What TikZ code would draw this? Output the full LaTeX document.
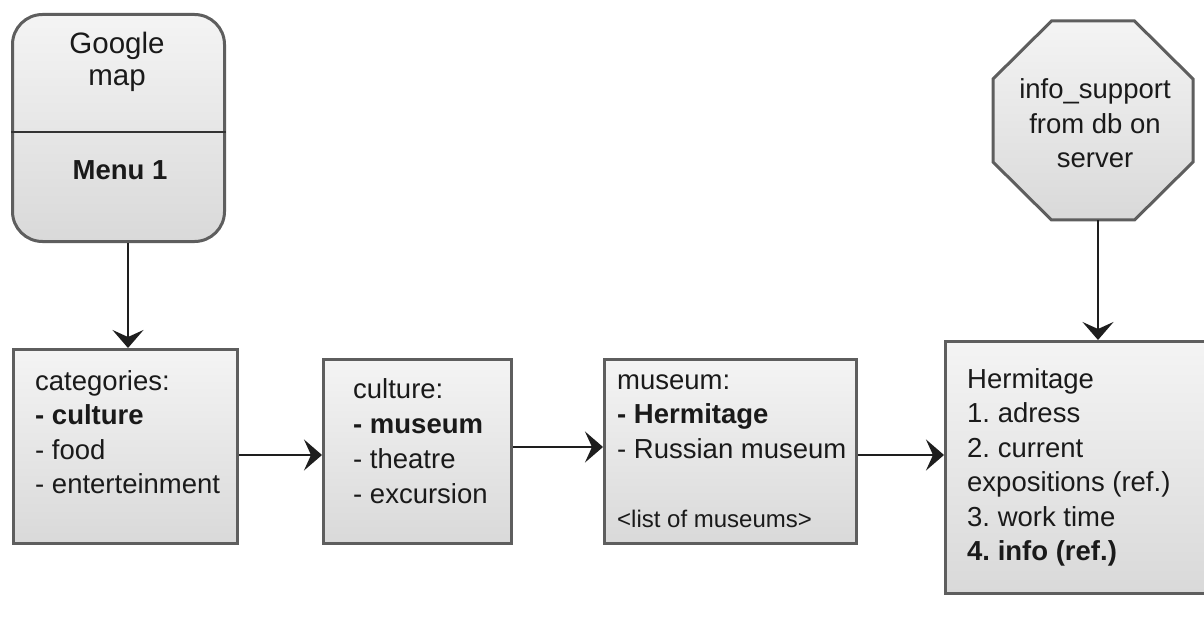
\documentclass[tikz,border=0pt]{standalone}
\usepackage{fontspec}
\setmainfont{Liberation Sans}
\usetikzlibrary{arrows.meta}
\definecolor{boxgray}{HTML}{5E5E5E}
\definecolor{topg}{HTML}{F4F4F4}
\definecolor{botg}{HTML}{D9D9D9}
\definecolor{txtc}{HTML}{1A1A1A}
\definecolor{arrc}{HTML}{1E1E1E}
\tikzset{
  box/.style={draw=boxgray, line width=3bp, top color=topg, bottom color=botg, inner sep=0pt, anchor=north west},
  txt/.style={font=\fontsize{27.5bp}{34.5bp}\selectfont, inner sep=0pt, text=txtc},
  bigtxt/.style={font=\fontsize{29.5bp}{34.5bp}\selectfont, inner sep=0pt, text=txtc},
  smalltxt/.style={font=\fontsize{24bp}{28bp}\selectfont, inner sep=0pt, text=txtc},
  arr/.style={draw=arrc, line width=2bp, -{Stealth[length=18bp,width=31bp,inset=7bp]}},
}
\begin{document}
\frenchspacing
\begin{tikzpicture}[x=1bp,y=-1bp]
\useasboundingbox (0,0) rectangle (1204,634);
\clip (0,0) rectangle (1204,634);
\fill[white] (0,0) rectangle (1204,634);

% Google map box
\node[box, rounded corners=30bp, minimum width=212bp, minimum height=227bp] (gm) at (11,13) {};
\coordinate (dv) at (0,132);
\draw[line width=2bp, black!80] (gm.west |- dv) -- (gm.east |- dv);
\node[bigtxt, anchor=base] (gm1) at (117,54) {Google};
\node[bigtxt, anchor=base] (gm2) at (117,86) {map};
\node[txt, anchor=base, font=\fontsize{27.5bp}{34.5bp}\selectfont\bfseries] (gm3) at (120,180) {Menu 1};

% boxes
\node[box, minimum width=224bp, minimum height=194bp] (cat) at (12,348) {};
\node[box, minimum width=188bp, minimum height=184bp] (cul) at (322,358) {};
\node[box, minimum width=252bp, minimum height=184bp] (mus) at (603,358) {};
\node[box, minimum width=266bp, minimum height=252bp] (herm) at (944,340) {};

% octagon
\node[minimum width=200bp, minimum height=199bp, inner sep=0pt] (oct) at (1093,120.5) {};
\path[draw=boxgray, line width=3bp, top color=topg, bottom color=botg]
  (1051.5,21) -- (1134.5,21) -- (1193,79) -- (1193,162) -- (1134.5,220)
  -- (1051.5,220) -- (993,162) -- (993,79) -- cycle;
\foreach \t [count=\i from 0] in {info\_support, from db on, server}
  \node[txt, anchor=base] (oct\i) at (1095,99+34.5*\i) {\t};

% texts
\foreach \t [count=\i from 0] in {categories:, {\bfseries - culture}, - food, - enterteinment}
  \node[txt, anchor=base west] (catt\i) at (35,390+34.5*\i) {\t};
\foreach \t [count=\i from 0] in {culture:, {\bfseries - museum}, - theatre, - excursion}
  \node[txt, anchor=base west] (cult\i) at (353,398+35*\i) {\t};
\foreach \t [count=\i from 0] in {museum:, {\bfseries - Hermitage}, - Russian museum}
  \node[txt, anchor=base west] (must\i) at (617,389+34.5*\i) {\t};
\node[smalltxt, anchor=base west] (mussm) at (617,527) {<list of museums>};
\foreach \t [count=\i from 0] in {Hermitage, 1. adress, 2. current, expositions (ref.), 3. work time, {\bfseries 4. info (ref.)}}
  \node[txt, anchor=base west] (hermt\i) at (967,388+34.5*\i) {\t};

% connectors
\coordinate (y1) at (0,455);
\coordinate (y2) at (0,447);
\coordinate (y3) at (0,455);
\coordinate (ax) at (1098,0);
\coordinate (gx) at (128,0);
\draw[arr] (gm.south -| gx) -- (cat.north -| gx);
\draw[arr] (cat.east |- y1) -- (cul.west |- y1);
\draw[arr] (cul.east |- y2) -- (mus.west |- y2);
\draw[arr] (mus.east |- y3) -- (herm.west |- y3);
\draw[arr] (oct.south -| ax) -- (herm.north -| ax);
\end{tikzpicture}
\end{document}
